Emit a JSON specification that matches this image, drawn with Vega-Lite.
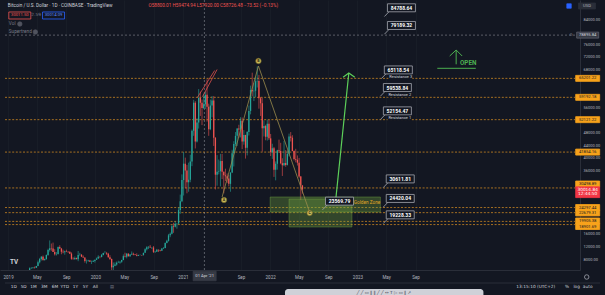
{
"$schema": "https://vega.github.io/schema/vega-lite/v6.json",
"width": 580, "height": 270,
"autosize": {"type": "none"},
"padding": {"left": 0, "top": 0, "right": 25, "bottom": 25},
"background": "#131722",
"config": {"view": {"stroke": null, "fill": "#131722"}},
"resolve": {"scale": {"color": "independent", "fill": "independent", "stroke": "independent", "shape": "independent"}},
"datasets": {
"candles": [
{"d":"2018-12-31","o":3740,"h":4090,"l":3650,"c":4050},
{"d":"2019-01-07","o":4050,"h":4100,"l":3540,"c":3550},
{"d":"2019-01-14","o":3550,"h":3750,"l":3480,"c":3540},
{"d":"2019-01-21","o":3540,"h":3640,"l":3470,"c":3520},
{"d":"2019-01-28","o":3520,"h":3540,"l":3350,"c":3410},
{"d":"2019-02-04","o":3410,"h":3700,"l":3390,"c":3680},
{"d":"2019-02-11","o":3680,"h":3730,"l":3570,"c":3670},
{"d":"2019-02-18","o":3670,"h":4200,"l":3650,"c":3780},
{"d":"2019-02-25","o":3780,"h":3880,"l":3680,"c":3720},
{"d":"2019-03-04","o":3720,"h":3950,"l":3680,"c":3900},
{"d":"2019-03-11","o":3900,"h":4000,"l":3780,"c":3990},
{"d":"2019-03-18","o":3990,"h":4070,"l":3900,"c":3990},
{"d":"2019-03-25","o":3990,"h":4150,"l":3900,"c":4140},
{"d":"2019-04-01","o":4140,"h":5350,"l":4090,"c":5070},
{"d":"2019-04-08","o":5070,"h":5450,"l":4910,"c":5160},
{"d":"2019-04-15","o":5160,"h":5400,"l":4950,"c":5300},
{"d":"2019-04-22","o":5300,"h":5620,"l":4960,"c":5200},
{"d":"2019-04-29","o":5200,"h":5820,"l":5160,"c":5750},
{"d":"2019-05-06","o":5750,"h":7500,"l":5700,"c":6990},
{"d":"2019-05-13","o":6990,"h":8350,"l":6600,"c":8000},
{"d":"2019-05-20","o":8000,"h":8950,"l":7500,"c":8740},
{"d":"2019-05-27","o":8740,"h":9100,"l":7450,"c":7680},
{"d":"2019-06-03","o":7680,"h":8150,"l":7450,"c":8000},
{"d":"2019-06-10","o":8000,"h":9400,"l":7750,"c":9300},
{"d":"2019-06-17","o":9300,"h":11250,"l":9000,"c":10850},
{"d":"2019-06-24","o":10850,"h":13880,"l":10350,"c":11400},
{"d":"2019-07-01","o":11400,"h":12900,"l":10600,"c":11300},
{"d":"2019-07-08","o":11300,"h":13200,"l":10300,"c":10200},
{"d":"2019-07-15","o":10200,"h":11100,"l":9100,"c":9500},
{"d":"2019-07-22","o":9500,"h":10200,"l":9100,"c":9580},
{"d":"2019-07-29","o":9580,"h":11950,"l":9400,"c":11800},
{"d":"2019-08-05","o":11800,"h":12350,"l":11200,"c":11300},
{"d":"2019-08-12","o":11300,"h":11500,"l":9500,"c":10300},
{"d":"2019-08-19","o":10300,"h":10950,"l":9800,"c":10150},
{"d":"2019-08-26","o":10150,"h":10650,"l":9350,"c":10450},
{"d":"2019-09-02","o":10450,"h":10950,"l":10200,"c":10350},
{"d":"2019-09-09","o":10350,"h":10450,"l":9900,"c":10300},
{"d":"2019-09-16","o":10300,"h":10350,"l":9600,"c":9700},
{"d":"2019-09-23","o":9700,"h":10100,"l":7750,"c":8050},
{"d":"2019-09-30","o":8050,"h":8550,"l":7900,"c":7900},
{"d":"2019-10-07","o":7900,"h":8800,"l":7800,"c":8300},
{"d":"2019-10-14","o":8300,"h":8450,"l":7900,"c":7950},
{"d":"2019-10-21","o":7950,"h":10540,"l":7300,"c":9250},
{"d":"2019-10-28","o":9250,"h":9950,"l":9000,"c":9350},
{"d":"2019-11-04","o":9350,"h":9550,"l":8600,"c":8750},
{"d":"2019-11-11","o":8750,"h":9150,"l":8400,"c":8500},
{"d":"2019-11-18","o":8500,"h":8500,"l":6850,"c":7400},
{"d":"2019-11-25","o":7400,"h":7850,"l":6550,"c":7400},
{"d":"2019-12-02","o":7400,"h":7750,"l":7100,"c":7500},
{"d":"2019-12-09","o":7500,"h":7700,"l":7100,"c":7100},
{"d":"2019-12-16","o":7100,"h":7500,"l":6420,"c":7150},
{"d":"2019-12-23","o":7150,"h":7700,"l":7100,"c":7400},
{"d":"2019-12-30","o":7400,"h":7800,"l":6850,"c":7750},
{"d":"2020-01-06","o":7750,"h":8450,"l":7700,"c":8150},
{"d":"2020-01-13","o":8150,"h":9190,"l":8050,"c":8700},
{"d":"2020-01-20","o":8700,"h":8800,"l":8250,"c":8600},
{"d":"2020-01-27","o":8600,"h":9600,"l":8550,"c":9300},
{"d":"2020-02-03","o":9300,"h":10000,"l":9150,"c":9900},
{"d":"2020-02-10","o":9900,"h":10500,"l":9750,"c":9900},
{"d":"2020-02-17","o":9900,"h":10250,"l":9300,"c":9700},
{"d":"2020-02-24","o":9700,"h":9950,"l":8450,"c":8550},
{"d":"2020-03-02","o":8550,"h":9200,"l":7700,"c":8000},
{"d":"2020-03-09","o":8000,"h":8150,"l":3850,"c":5350},
{"d":"2020-03-16","o":5350,"h":6900,"l":4450,"c":5850},
{"d":"2020-03-23","o":5850,"h":6950,"l":5700,"c":6250},
{"d":"2020-03-30","o":6250,"h":7200,"l":5900,"c":6780},
{"d":"2020-04-06","o":6780,"h":7450,"l":6750,"c":6900},
{"d":"2020-04-13","o":6900,"h":7300,"l":6500,"c":7100},
{"d":"2020-04-20","o":7100,"h":7750,"l":6800,"c":7700},
{"d":"2020-04-27","o":7700,"h":9450,"l":7600,"c":8900},
{"d":"2020-05-04","o":8900,"h":10000,"l":8500,"c":8700},
{"d":"2020-05-11","o":8700,"h":9900,"l":8200,"c":9700},
{"d":"2020-05-18","o":9700,"h":9850,"l":8800,"c":8900},
{"d":"2020-05-25","o":8900,"h":9600,"l":8650,"c":9450},
{"d":"2020-06-01","o":9450,"h":10400,"l":9300,"c":9650},
{"d":"2020-06-08","o":9650,"h":10000,"l":9150,"c":9400},
{"d":"2020-06-15","o":9400,"h":9600,"l":9200,"c":9300},
{"d":"2020-06-22","o":9300,"h":9800,"l":8850,"c":9000},
{"d":"2020-06-29","o":9000,"h":9380,"l":8950,"c":9250},
{"d":"2020-07-06","o":9250,"h":9450,"l":9150,"c":9300},
{"d":"2020-07-13","o":9300,"h":9300,"l":9050,"c":9200},
{"d":"2020-07-20","o":9200,"h":10000,"l":9150,"c":9950},
{"d":"2020-07-27","o":9950,"h":11400,"l":9950,"c":11050},
{"d":"2020-08-03","o":11050,"h":12050,"l":10700,"c":11700},
{"d":"2020-08-10","o":11700,"h":12000,"l":11150,"c":11900},
{"d":"2020-08-17","o":11900,"h":12450,"l":11550,"c":11650},
{"d":"2020-08-24","o":11650,"h":11800,"l":11150,"c":11650},
{"d":"2020-08-31","o":11650,"h":12100,"l":9900,"c":10250},
{"d":"2020-09-07","o":10250,"h":10600,"l":9900,"c":10300},
{"d":"2020-09-14","o":10300,"h":11200,"l":10250,"c":10950},
{"d":"2020-09-21","o":10950,"h":10950,"l":10200,"c":10750},
{"d":"2020-09-28","o":10750,"h":10950,"l":10400,"c":10650},
{"d":"2020-10-05","o":10650,"h":11500,"l":10550,"c":11350},
{"d":"2020-10-12","o":11350,"h":11750,"l":11200,"c":11500},
{"d":"2020-10-19","o":11500,"h":13250,"l":11400,"c":13050},
{"d":"2020-10-26","o":13050,"h":14100,"l":12950,"c":13750},
{"d":"2020-11-02","o":13750,"h":15950,"l":13500,"c":15500},
{"d":"2020-11-09","o":15500,"h":16400,"l":14900,"c":16000},
{"d":"2020-11-16","o":16000,"h":18800,"l":15800,"c":18400},
{"d":"2020-11-23","o":18400,"h":19450,"l":16300,"c":18200},
{"d":"2020-11-30","o":18200,"h":19900,"l":18000,"c":19150},
{"d":"2020-12-07","o":19150,"h":19300,"l":17600,"c":19250},
{"d":"2020-12-14","o":19250,"h":24300,"l":19000,"c":23500},
{"d":"2020-12-21","o":23500,"h":28400,"l":22300,"c":26300},
{"d":"2020-12-28","o":26300,"h":34800,"l":26000,"c":33000},
{"d":"2021-01-04","o":33000,"h":41900,"l":28100,"c":38200},
{"d":"2021-01-11","o":38200,"h":40100,"l":30400,"c":36000},
{"d":"2021-01-18","o":36000,"h":37800,"l":28800,"c":32300},
{"d":"2021-01-25","o":32300,"h":38500,"l":29300,"c":33100},
{"d":"2021-02-01","o":33100,"h":41000,"l":32300,"c":38900},
{"d":"2021-02-08","o":38900,"h":49000,"l":37400,"c":48600},
{"d":"2021-02-15","o":48600,"h":58400,"l":47000,"c":57500},
{"d":"2021-02-22","o":57500,"h":58000,"l":43000,"c":45200},
{"d":"2021-03-01","o":45200,"h":52600,"l":44900,"c":51200},
{"d":"2021-03-08","o":51200,"h":61800,"l":49300,"c":59000},
{"d":"2021-03-15","o":59000,"h":61000,"l":53300,"c":57500},
{"d":"2021-03-22","o":57500,"h":58500,"l":50400,"c":55800},
{"d":"2021-03-29","o":55800,"h":60300,"l":55500,"c":57000},
{"d":"2021-04-05","o":57000,"h":61000,"l":55500,"c":60000},
{"d":"2021-04-12","o":60000,"h":64900,"l":51500,"c":56200},
{"d":"2021-04-19","o":56200,"h":57200,"l":47000,"c":49100},
{"d":"2021-04-26","o":49100,"h":58500,"l":48800,"c":56600},
{"d":"2021-05-03","o":56600,"h":59600,"l":52900,"c":58200},
{"d":"2021-05-10","o":58200,"h":59600,"l":43800,"c":46400},
{"d":"2021-05-17","o":46400,"h":46600,"l":30000,"c":34700},
{"d":"2021-05-24","o":34700,"h":40900,"l":31200,"c":35600},
{"d":"2021-05-31","o":35600,"h":39500,"l":34800,"c":35800},
{"d":"2021-06-07","o":35800,"h":41300,"l":31000,"c":39000},
{"d":"2021-06-14","o":39000,"h":41300,"l":33300,"c":35600},
{"d":"2021-06-21","o":35600,"h":35700,"l":28800,"c":34500},
{"d":"2021-06-28","o":34500,"h":36600,"l":32700,"c":34200},
{"d":"2021-07-05","o":34200,"h":35100,"l":32100,"c":33500},
{"d":"2021-07-12","o":33500,"h":34600,"l":31000,"c":31800},
{"d":"2021-07-19","o":31800,"h":35400,"l":29300,"c":35400},
{"d":"2021-07-26","o":35400,"h":42600,"l":35200,"c":41500},
{"d":"2021-08-02","o":41500,"h":45300,"l":37300,"c":44400},
{"d":"2021-08-09","o":44400,"h":48200,"l":43800,"c":47000},
{"d":"2021-08-16","o":47000,"h":49400,"l":43800,"c":49300},
{"d":"2021-08-23","o":49300,"h":50500,"l":46400,"c":49000},
{"d":"2021-08-30","o":49000,"h":52900,"l":46500,"c":51800},
{"d":"2021-09-06","o":51800,"h":52800,"l":42800,"c":45200},
{"d":"2021-09-13","o":45200,"h":48800,"l":44200,"c":47300},
{"d":"2021-09-20","o":47300,"h":47300,"l":39800,"c":43200},
{"d":"2021-09-27","o":43200,"h":48500,"l":40800,"c":48200},
{"d":"2021-10-04","o":48200,"h":56600,"l":47100,"c":54900},
{"d":"2021-10-11","o":54900,"h":62900,"l":53800,"c":61500},
{"d":"2021-10-18","o":61500,"h":67000,"l":59500,"c":61100},
{"d":"2021-10-25","o":61100,"h":63700,"l":58000,"c":61300},
{"d":"2021-11-01","o":61300,"h":65600,"l":59300,"c":64300},
{"d":"2021-11-08","o":64300,"h":69000,"l":62300,"c":64400},
{"d":"2021-11-15","o":64400,"h":66300,"l":55600,"c":58900},
{"d":"2021-11-22","o":58900,"h":59300,"l":53300,"c":57300},
{"d":"2021-11-29","o":57300,"h":59100,"l":42000,"c":49400},
{"d":"2021-12-06","o":49400,"h":51900,"l":46800,"c":50100},
{"d":"2021-12-13","o":50100,"h":50500,"l":45600,"c":46700},
{"d":"2021-12-20","o":46700,"h":52100,"l":45500,"c":50800},
{"d":"2021-12-27","o":50800,"h":52100,"l":45700,"c":46200},
{"d":"2022-01-03","o":46200,"h":47600,"l":40600,"c":41800},
{"d":"2022-01-10","o":41800,"h":44500,"l":39700,"c":43100},
{"d":"2022-01-17","o":43100,"h":43500,"l":34000,"c":36300},
{"d":"2022-01-24","o":36300,"h":38900,"l":32900,"c":38200},
{"d":"2022-01-31","o":38200,"h":42600,"l":36300,"c":42400},
{"d":"2022-02-07","o":42400,"h":45800,"l":41700,"c":42200},
{"d":"2022-02-14","o":42200,"h":44800,"l":38000,"c":38300},
{"d":"2022-02-21","o":38300,"h":39900,"l":34300,"c":37700},
{"d":"2022-02-28","o":37700,"h":45400,"l":37400,"c":38400},
{"d":"2022-03-07","o":38400,"h":42500,"l":37200,"c":37800},
{"d":"2022-03-14","o":37800,"h":42400,"l":37600,"c":41300},
{"d":"2022-03-21","o":41300,"h":47700,"l":40500,"c":46800},
{"d":"2022-03-28","o":46800,"h":48200,"l":45200,"c":46400},
{"d":"2022-04-04","o":46400,"h":47200,"l":42100,"c":42200},
{"d":"2022-04-11","o":42200,"h":42400,"l":39200,"c":39700},
{"d":"2022-04-18","o":39700,"h":42900,"l":38600,"c":39400},
{"d":"2022-04-25","o":39400,"h":40800,"l":37600,"c":38500},
{"d":"2022-05-02","o":38500,"h":40000,"l":33700,"c":34100},
{"d":"2022-05-09","o":34100,"h":34300,"l":26700,"c":31300},
{"d":"2022-05-16","o":31300,"h":31400,"l":28700,"c":30015}
],
"hl": [
{"p":65201.22,"d":"2018-12-19","d2":"2025-06-29"},
{"p":59192.18,"d":"2018-12-19","d2":"2025-06-29"},
{"p":52121.22,"d":"2018-12-19","d2":"2025-06-29"},
{"p":41854.16,"d":"2018-12-19","d2":"2025-06-29"},
{"p":30498.89,"d":"2018-12-19","d2":"2025-06-29"},
{"p":24297.44,"d":"2018-12-19","d2":"2025-06-29"},
{"p":22679.31,"d":"2018-12-19","d2":"2025-06-29"},
{"p":19905.38,"d":"2018-12-19","d2":"2025-06-29"},
{"p":18901.69,"d":"2018-12-19","d2":"2025-06-29"}
],
"crossh": [{"p":78895.84,"d":"2018-12-19","d2":"2025-06-29"}],
"crossv": [{"d":"2021-04-01","p":90017,"p2":4517}],
"segs": [
{"g":"wedge","s":"w1","d":"2021-03-02","p":59078},{"g":"wedge","s":"w1","d":"2021-05-14","p":67691},
{"g":"wedge","s":"w2","d":"2021-03-24","p":59395},{"g":"wedge","s":"w2","d":"2021-05-24","p":68008},
{"g":"abc","s":"a","d":"2021-06-14","p":27634},{"g":"abc","s":"a","d":"2021-11-13","p":69116},{"g":"abc","s":"a","d":"2022-06-15","p":22883},
{"g":"arr","s":"shaft","d":"2022-09-30","p":25100},{"g":"arr","s":"shaft","d":"2022-11-26","p":66900},
{"g":"arr","s":"head","d":"2022-11-02","p":65538},{"g":"arr","s":"head","d":"2022-11-26","p":66900},{"g":"arr","s":"head","d":"2022-12-21","p":65538},
{"g":"open","s":"shaft","d":"2024-02-18","p":74183},{"g":"open","s":"shaft","d":"2024-02-18","p":69655},
{"g":"open","s":"head","d":"2024-01-22","p":72284},{"g":"open","s":"head","d":"2024-02-18","p":74183},{"g":"open","s":"head","d":"2024-03-14","p":72284},
{"g":"open","s":"under","d":"2023-12-01","p":68388},{"g":"open","s":"under","d":"2024-05-10","p":68388}
],
"abcpts": [{"t":"A","d":"2021-06-22","p":26683},{"t":"B","d":"2021-11-13","p":70700},{"t":"C","d":"2022-06-15","p":22566}],
"zones": [{"d":"2022-01-01","d2":"2023-04-07","p":27634,"p2":22883},{"d":"2022-03-21","d2":"2022-12-09","p":27000,"p2":18134}],
"callouts": [
{"d":"2023-04-24","p":84788.64,"t":"84788.64","sub":""},
{"d":"2023-04-24","p":79189.32,"t":"79189.32","sub":""},
{"d":"2023-04-11","p":65118.54,"t":"65118.54","sub":"Resistance 3"},
{"d":"2023-04-07","p":59538.84,"t":"59538.84","sub":"Resistance 2"},
{"d":"2023-04-07","p":52154.47,"t":"52154.47","sub":"Resistance 1"},
{"d":"2023-04-19","p":30611.81,"t":"30611.81","sub":""},
{"d":"2023-04-19","p":24420.04,"t":"24420.04","sub":""},
{"d":"2023-04-19","p":19228.33,"t":"19228.33","sub":""},
{"d":"2022-08-08","p":23569.79,"t":"23569.79","sub":""}
],
"boxes": [
{"k":"org","t":"65201.22","d":"2025-08-21","p":65201.22},
{"k":"org","t":"59192.18","d":"2025-08-21","p":59192.18},
{"k":"org","t":"52121.22","d":"2025-08-21","p":52121.22},
{"k":"org","t":"41854.16","d":"2025-08-21","p":41854.16},
{"k":"org","t":"30498.89","d":"2025-08-21","p":31750},
{"k":"org","t":"24297.44","d":"2025-08-21","p":24300},
{"k":"org","t":"22679.31","d":"2025-08-21","p":22600},
{"k":"org","t":"19905.38","d":"2025-08-21","p":20033},
{"k":"org","t":"18901.69","d":"2025-08-21","p":18292},
{"k":"red","t":"","d":"2025-08-21","p":29153},
{"k":"xh","t":"78895.84","d":"2025-08-21","p":78895.84},
{"k":"dt","t":"01 Apr '21","d":"2021-04-02","p":2616},
{"k":"hr","t":"30011.50","d":"2019-02-19","p":85109},
{"k":"hb","t":"30014.09","d":"2019-07-10","p":85109},
{"k":"usd","t":"USD","d":"2025-08-18","p":88117}
],
"icons": [
{"k":"eye","d":"2019-02-19","p":82417},
{"k":"eye","d":"2019-04-25","p":79884},
{"k":"blue","d":"2025-06-04","p":88117},
{"k":"gear","d":"2025-08-17","p":2300}
],
"uil": [
{"k":"hdr","t":"Bitcoin / U.S. Dollar · 1D · COINBASE · TradingView","d":"2018-12-31","p":88117},
{"k":"ohlc","t":"O58800.01 H59474.94 L57920.00 C58726.48 −73.52 (−0.13%)","d":"2020-08-10","p":88117},
{"k":"sm","t":"Vol","d":"2019-01-04","p":82417},
{"k":"sm","t":"Supertrend","d":"2019-01-04","p":79884},
{"k":"gz","t":"Golden Zone","d":"2022-12-17","p":25733}
],
"uib": [
{"k":"open","t":"OPEN","d":"2024-03-05","p":70162},
{"k":"logo","t":"TV","d":"2019-01-09","p":7049}
],
"uic": [
{"k":"tb","t":"1D","d":"2019-01-25","p":-872},
{"k":"tb","t":"5D","d":"2019-03-07","p":-872},
{"k":"tb","t":"1M","d":"2019-04-17","p":-872},
{"k":"tb","t":"3M","d":"2019-06-01","p":-872},
{"k":"tb","t":"6M","d":"2019-07-16","p":-872},
{"k":"tb","t":"YTD","d":"2019-08-26","p":-872},
{"k":"tb","t":"1Y","d":"2019-10-10","p":-872},
{"k":"tb","t":"5Y","d":"2019-11-20","p":-872},
{"k":"tb","t":"All","d":"2020-01-01","p":-872},
{"k":"tbg","t":"▤","d":"2020-03-11","p":-872},
{"k":"tb","t":"13:15:10 (UTC+2)","d":"2025-01-16","p":-872},
{"k":"tb","t":"%","d":"2025-05-27","p":-872},
{"k":"tb","t":"log","d":"2025-07-06","p":-872},
{"k":"tb","t":"auto","d":"2025-08-21","p":-872},
{"k":"tbg","t":"2.59","d":"2019-04-28","p":85109},
{"k":"redt","t":"30014.84","d":"2025-08-21","p":30006},
{"k":"redt","t":"12:44:50","d":"2025-08-21","p":28426},
{"k":"tbg","t":"⊖","d":"2025-06-12","p":78895.84},
{"k":"tbi","t":"╱  ╱  ▭  ‖  ‖  ╱  ╱  ↔  T  ▷  ▭  ‖  ↗","d":"2023-04-22","p":-2608}
],
"tbar": [{"d":"2022-03-04","d2":"2024-06-11","p":-1500,"p2":-4200}],
"sep": [{"p":399,"d":"2018-12-19","d2":"2025-10-12"}]
},
"encoding": {
"x": {"field":"d","type":"temporal",
 "scale":{"type":"utc","domain":[{"year":2018,"month":12,"date":19,"utc":true},{"year":2025,"month":6,"date":29,"utc":true}],"nice":false},
 "axis":{"title":null,"values":[
  {"year":2019,"month":1,"date":1,"utc":true},{"year":2019,"month":5,"date":1,"utc":true},{"year":2019,"month":9,"date":1,"utc":true},
  {"year":2020,"month":1,"date":1,"utc":true},{"year":2020,"month":5,"date":1,"utc":true},{"year":2020,"month":9,"date":1,"utc":true},
  {"year":2021,"month":1,"date":1,"utc":true},{"year":2021,"month":9,"date":1,"utc":true},
  {"year":2022,"month":1,"date":1,"utc":true},{"year":2022,"month":5,"date":1,"utc":true},{"year":2022,"month":9,"date":1,"utc":true},
  {"year":2023,"month":1,"date":1,"utc":true},{"year":2023,"month":5,"date":1,"utc":true},{"year":2023,"month":9,"date":1,"utc":true}],
  "labelExpr":"utcFormat(datum.value,'%m')=='01' ? utcFormat(datum.value,'%Y') : utcFormat(datum.value,'%b')",
  "labelColor":"#b2b5be","labelFont":"Roboto","labelFontSize":4.5,"labelPadding":4,"ticks":false,
  "domainColor":"#2a2e39","grid":true,"gridColor":"#1d212c","gridWidth":0.6,"labelFlush":false,"labelOverlap":false,"labelBound":false}},
"y": {"field":"p","type":"quantitative",
 "scale":{"domain":[4517,90017],"nice":false,"zero":false},
 "axis":{"title":null,"orient":"right","values":[8000,12000,16000,36000,40000,44000,48000,56000,68000,72000,76000,84000],
  "format":".2f","labelColor":"#b2b5be","labelFont":"Roboto","labelFontSize":4,"labelPadding":3,"ticks":false,
  "domainColor":"#2a2e39","grid":false,"labelOverlap":false,"labelBound":false,"labelFlush":false}}
},
"layer": [
{"data":{"name":"hl"},"mark":{"type":"rule","color":"#c98421","strokeWidth":0.9,"strokeDash":[2,1.6],"opacity":0.9},
 "encoding":{"x2":{"field":"d2"}}},
{"data":{"name":"crossh"},"mark":{"type":"rule","color":"#8a8d96","strokeWidth":0.6,"strokeDash":[2,2]},
 "encoding":{"x2":{"field":"d2"}}},
{"data":{"name":"crossv"},"mark":{"type":"rule","color":"#8a8d96","strokeWidth":0.6,"strokeDash":[2,2]},
 "encoding":{"y2":{"field":"p2"}}},
{"data":{"name":"candles"},"mark":{"type":"rule","strokeWidth":0.6,"clip":true},
 "encoding":{"y":{"field":"l","type":"quantitative"},"y2":{"field":"h"},
  "color":{"condition":{"test":"datum.c >= datum.o","value":"#26a69a"},"value":"#ef5350"}}},
{"data":{"name":"candles"},"mark":{"type":"bar","width":1.3,"clip":true},
 "encoding":{"y":{"field":"o","type":"quantitative"},"y2":{"field":"c"},
  "color":{"condition":{"test":"datum.c >= datum.o","value":"#26a69a"},"value":"#ef5350"}}},
{"data":{"name":"zones"},"mark":{"type":"rect","fill":"#7cb342","fillOpacity":0.3,"stroke":"#7cb342","strokeOpacity":0.55,"strokeWidth":0.7},
 "encoding":{"x2":{"field":"d2"},"y2":{"field":"p2"}}},
{"data":{"name":"segs"},"transform":[{"filter":"datum.g == 'wedge'"}],"mark":{"type":"line","color":"#e0504e","strokeWidth":0.8},
 "encoding":{"detail":{"field":"s","type":"nominal"}}},
{"data":{"name":"segs"},"transform":[{"filter":"datum.g == 'abc'"}],"mark":{"type":"line","color":"#9a8c4c","strokeWidth":0.8},
 "encoding":{"detail":{"field":"s","type":"nominal"}}},
{"data":{"name":"abcpts"},"mark":{"type":"point","shape":"circle","size":30,"filled":true,"fill":"#c9b957","stroke":"#6d6226","strokeWidth":0.6,"opacity":1}},
{"data":{"name":"abcpts"},"mark":{"type":"text","fontSize":3.6,"fontWeight":"bold","font":"Roboto","color":"#2a2410"},"encoding":{"text":{"field":"t"}}},
{"data":{"name":"segs"},"transform":[{"filter":"datum.g == 'arr'"}],"mark":{"type":"line","color":"#5dd05a","strokeWidth":1.2},
 "encoding":{"detail":{"field":"s","type":"nominal"}}},
{"data":{"name":"segs"},"transform":[{"filter":"datum.g == 'open'"}],"mark":{"type":"line","color":"#4caf50","strokeWidth":1},
 "encoding":{"detail":{"field":"s","type":"nominal"}}},
{"data":{"name":"callouts"},"mark":{"type":"point","shape":"M0.3,-1.27H3.1V-0.47H0.3Z M0.45,-0.47L0,0","size":400,"filled":true,"fill":"#131722","stroke":"#a3a6af","strokeWidth":0.8,"opacity":1}},
{"data":{"name":"callouts"},"transform":[{"filter":"datum.sub != ''"}],"mark":{"type":"point","shape":"M0.72,-0.38H3.1V0.12H0.72Z","size":400,"filled":true,"fill":"#131722","strokeWidth":0,"opacity":1}},
{"data":{"name":"callouts"},"mark":{"type":"text","dx":17,"dy":-8.7,"font":"Roboto","fontSize":5,"fontWeight":"bold","color":"#ffffff"},"encoding":{"text":{"field":"t"}}},
{"data":{"name":"callouts"},"mark":{"type":"text","align":"left","dx":8,"dy":-1.3,"font":"Roboto","fontSize":4,"color":"#d1d4dc"},"encoding":{"text":{"field":"sub"}}},
{"data":{"name":"tbar"},"mark":{"type":"rect","fill":"#cfd1d8","cornerRadius":3},"encoding":{"x2":{"field":"d2"},"y2":{"field":"p2"}}},
{"data":{"name":"sep"},"mark":{"type":"rule","color":"#2a2e39","strokeWidth":1},
 "encoding":{"x2":{"field":"d2"}}},
{"data":{"name":"boxes"},"mark":{"type":"point","size":400,"filled":true,"opacity":1,"strokeWidth":0.8},
 "encoding":{
  "shape":{"field":"k","type":"nominal","legend":null,"scale":{"domain":["org","red","xh","dt","hr","hb","usd"],"range":["M-1.2,-0.3H1.2V0.3H-1.2Z","M-1.2,-0.54H1.2V0.54H-1.2Z","M-1.1,-0.3H1.1V0.3H-1.1Z","M-1.15,-0.48H1.15V0.48H-1.15Z","M-1.1,-0.35H1.1V0.35H-1.1Z","M-1.1,-0.35H1.1V0.35H-1.1Z","M-0.85,-0.3H0.85V0.3H-0.85Z"]}},
  "fill":{"field":"k","type":"nominal","legend":null,"scale":{"domain":["org","red","xh","dt","hr","hb","usd"],"range":["#f7a21b","#f23645","#363a45","#363a45","#131722","#131722","#2a2e39"]}},
  "stroke":{"field":"k","type":"nominal","legend":null,"scale":{"domain":["org","red","xh","dt","hr","hb","usd"],"range":["#f7a21b","#f23645","#5d606b","#363a45","#ef5350","#2962ff","#2a2e39"]}}}},
{"data":{"name":"boxes"},"mark":{"type":"text","font":"Roboto","fontSize":4.2},
 "encoding":{"text":{"field":"t"},
  "color":{"field":"k","type":"nominal","legend":null,"scale":{"domain":["org","red","xh","dt","hr","hb","usd"],"range":["#131722","#ffffff","#d1d4dc","#d1d4dc","#ef5350","#5d8bff","#b2b5be"]}}}},
{"data":{"name":"icons"},"mark":{"type":"point","size":20,"filled":true,"opacity":1,"strokeWidth":0.7},
 "encoding":{
  "shape":{"field":"k","type":"nominal","legend":null,"scale":{"domain":["eye","blue","gear"],"range":["circle","square","circle"]}},
  "fill":{"field":"k","type":"nominal","legend":null,"scale":{"domain":["eye","blue","gear"],"range":["#50535e","#2962ff","#131722"]}},
  "stroke":{"field":"k","type":"nominal","legend":null,"scale":{"domain":["eye","blue","gear"],"range":["#50535e","#2962ff","#b2b5be"]}}}},
{"data":{"name":"uil"},"mark":{"type":"text","align":"left","font":"Roboto","fontSize":4.7},
 "encoding":{"text":{"field":"t"},
  "color":{"field":"k","type":"nominal","legend":null,"scale":{"domain":["hdr","ohlc","sm","gz"],"range":["#d1d4dc","#ef5350","#787b86","#e0a526"]}}}},
{"data":{"name":"uib"},"mark":{"type":"text","align":"left","font":"Roboto","fontSize":6.3,"fontWeight":"bold"},
 "encoding":{"text":{"field":"t"},
  "color":{"field":"k","type":"nominal","legend":null,"scale":{"domain":["open","logo"],"range":["#4caf50","#d1d4dc"]}}}},
{"data":{"name":"uic"},"mark":{"type":"text","font":"DejaVu Sans","fontSize":4.3},
 "encoding":{"text":{"field":"t"},
  "color":{"field":"k","type":"nominal","legend":null,"scale":{"domain":["tb","tbg","redt","tbi"],"range":["#d1d4dc","#787b86","#ffffff","#434651"]}}}}
]
}
